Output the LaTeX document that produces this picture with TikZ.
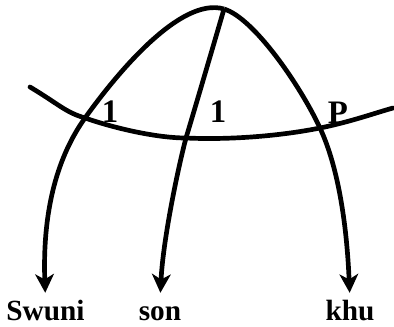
\documentclass[tikz,border=0pt]{standalone}
\usepackage{fontspec}
\setmainfont{Liberation Serif}
\usepackage{tikz}
\usetikzlibrary{arrows.meta}

\begin{document}
\begin{tikzpicture}[
  x=0.015cm, y=-0.015cm,
  word/.style={font=\fontsize{12.5}{14}\selectfont\bfseries, inner sep=0pt, anchor=base, text height=8pt, text depth=0pt},
  tag/.style={font=\fontsize{14}{15}\selectfont\bfseries, inner sep=0pt},
  curve/.style={line width=2pt, line cap=round, draw=black},
  arrow/.style={-{Stealth[length=2.8mm, width=2.8mm, inset=0.8mm]}, line width=2pt, draw=black, shorten >=0.12cm}
]
\useasboundingbox (0,0) rectangle (394,326);
\coordinate (root) at (224,9);
\coordinate (cross1) at (85,118);
\coordinate (cross2) at (186,138);
\coordinate (cross3) at (320,128);
\coordinate (west) at (30,87);
\coordinate (east) at (393,108);
\node[word] (swuni) at (45.5,320) {Swuni};
\node[word] (son) at (160,320) {son};
\node[word] (khu) at (350,320) {khu};
\node[tag] (one1) at (110,112) {1};
\node[tag] (one2) at (218,112) {1};
\node[tag] (pee) at (338,113) {P};
\draw[curve] (west) .. controls (60,105) and (65,112) .. (cross1)
  .. controls (120,130) and (160,138) .. (cross2)
  .. controls (230,140) and (280,136) .. (cross3)
  .. controls (350,122) and (375,113) .. (east);
\draw[arrow] (root) .. controls (180,-4) and (115,76) .. (cross1)
  .. controls (62.5,149.5) and (42,200) .. (swuni.north);
\draw[arrow] (root) .. controls (215,40) and (195,108) .. (cross2)
  .. controls (178,168) and (163,240) .. (son.north);
\draw[arrow] (root) .. controls (254,18) and (300.5,86) .. (cross3)
  .. controls (339.5,170) and (347,230) .. (khu.north);
\end{tikzpicture}
\end{document}
